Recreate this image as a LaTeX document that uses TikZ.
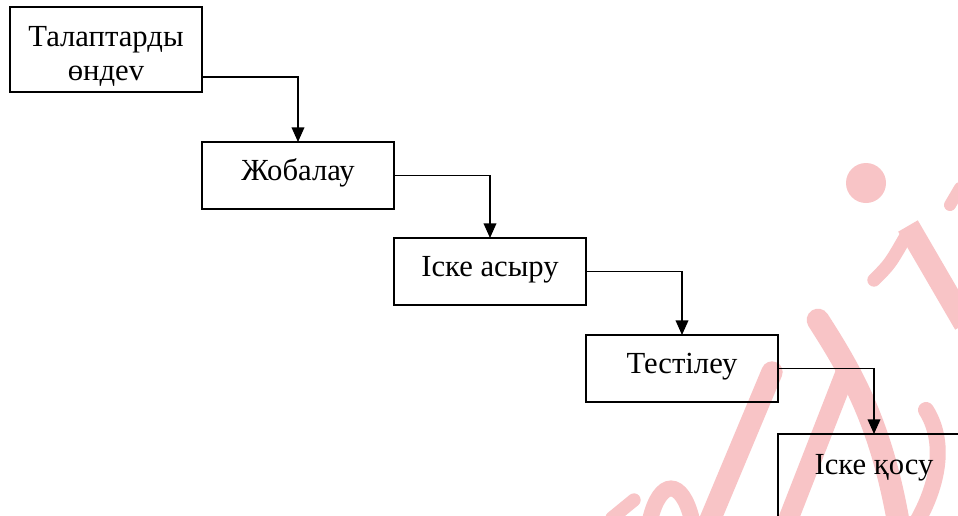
\documentclass[tikz,border=0pt]{standalone}
\usepackage{fontspec}
\setmainfont{Liberation Serif}
\usetikzlibrary{arrows.meta,positioning}
\definecolor{wmark}{HTML}{F8C4C6}

\begin{document}
\begin{tikzpicture}[x=0.75pt,y=-0.75pt,
  st/.style={draw,line width=1.5pt,minimum width=144pt,inner sep=0pt,outer sep=0pt,
    align=center,font=\fontsize{23}{25.5}\selectfont,
    text height=28.5pt,text depth=21.75pt},
  a/.style={-{Triangle[length=11pt,width=9.5pt]},line width=1.2pt},
  w/.style={wmark,line width=15pt,line cap=round}
]
\clip (0,0) rectangle (958,515);
\fill[white] (0,0) rectangle (958,515);

% watermark strokes, behind the chart
\fill[wmark] (866,183) circle[radius=20];
\draw[w,line width=17pt,line cap=butt] (908,226) -- (965,324);
\draw[w,line width=10pt] (874,280) .. controls (890,264) .. (906,236);
\draw[w,line width=17pt] (818,320) .. controls (850,370) and (880,420) .. (898,520);
\draw[w] (845,374) -- (788,520);
\draw[w,line width=16pt] (772,372) -- (710,520);
\draw[w,line width=12pt] (650,520) .. controls (660,478) and (682,478) .. (692,520);
\draw[w,line width=10pt] (612,518) -- (634,500);
\draw[w,line width=12pt] (926,410) .. controls (945,440) and (940,480) .. (918,520);
\draw[w,line width=9pt] (950,205) -- (960,188);

% stages
\node[st,anchor=north west,text height=54.75pt,text depth=9pt] (req) at (10,7) {Талаптарды\\өндеv};
\node[st,below right=37.5pt and 0pt of req] (design) {Жобалау};
\node[st,below right=21.75pt and 0pt of design] (impl) {Іске асыру};
\node[st,below right=22.5pt and 0pt of impl] (test) {Тестілеу};
\node[st,below right=24pt and 0pt of test,text height=30pt,text depth=60pt] (deploy) {Іске қосу};

\draw[a] ([yshift=-20.6pt]req.east) -| (design.north);
\draw[a] (design.east) -| (impl.north);
\draw[a] (impl.east) -| (test.north);
\draw[a] (test.east) -| (deploy.north);
\end{tikzpicture}
\end{document}
